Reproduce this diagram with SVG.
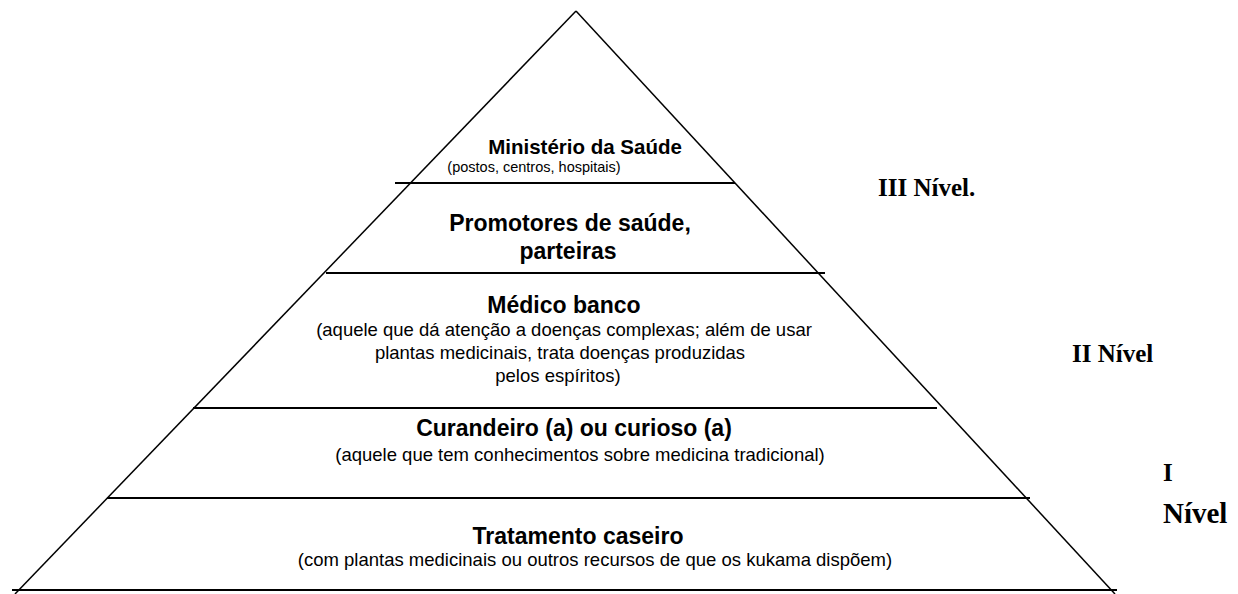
<svg xmlns="http://www.w3.org/2000/svg" width="1238" height="594" viewBox="0 0 1238 594">
<style>
.edge{stroke:#000;stroke-width:1.5;fill:none}
.lvl{stroke:#000;stroke-width:2;fill:none}
.h{font-family:"Liberation Sans",Arial,sans-serif;font-weight:bold;font-size:23px;fill:#000;text-anchor:middle}
.s{font-family:"Liberation Sans",Arial,sans-serif;font-size:18.5px;fill:#000;text-anchor:middle}
.n{font-family:"Liberation Serif","Times New Roman",serif;font-weight:bold;font-size:25px;fill:#000}
</style>
<rect width="1238" height="594" fill="#fff"/>
<g id="connectors">
<line class="edge" x1="576" y1="11" x2="15" y2="594"/>
<line class="edge" x1="576" y1="11" x2="1115" y2="594"/>
<line class="lvl" x1="395" y1="183" x2="735" y2="183"/>
<line class="lvl" x1="326" y1="273" x2="825" y2="273"/>
<line class="lvl" x1="193" y1="408" x2="937" y2="408"/>
<line class="lvl" x1="107" y1="498" x2="1030" y2="498"/>
<line class="lvl" x1="12" y1="590" x2="1117" y2="590"/>
</g>
<g id="node-ministerio">
<text class="h" x="585" y="154" style="font-size:20.5px">Ministério da Saúde</text>
<text class="s" x="534" y="172" style="font-size:14.5px">(postos, centros, hospitais)</text>
</g>
<g id="node-promotores">
<text class="h" x="570" y="231">Promotores de saúde,</text>
<text class="h" x="568" y="259">parteiras</text>
</g>
<g id="node-medico">
<text class="h" x="564" y="313">Médico banco</text>
<text class="s" x="564" y="336">(aquele que dá atenção a doenças complexas; além de usar</text>
<text class="s" x="560" y="359">plantas medicinais, trata doenças produzidas</text>
<text class="s" x="558" y="382">pelos espíritos)</text>
</g>
<g id="node-curandeiro">
<text class="h" x="574" y="436">Curandeiro (a) ou curioso (a)</text>
<text class="s" x="580" y="461">(aquele que tem conhecimentos sobre medicina tradicional)</text>
</g>
<g id="node-tratamento">
<text class="h" x="578" y="544">Tratamento caseiro</text>
<text class="s" x="595" y="566">(com plantas medicinais ou outros recursos de que os kukama dispõem)</text>
</g>
<g id="labels">
<text class="n" x="878" y="196">III Nível.</text>
<text class="n" x="1072" y="362">II Nível</text>
<text class="n" x="1163" y="481">I</text>
<text class="n" x="1163" y="523" style="font-size:29px">Nível</text>
</g>
</svg>
